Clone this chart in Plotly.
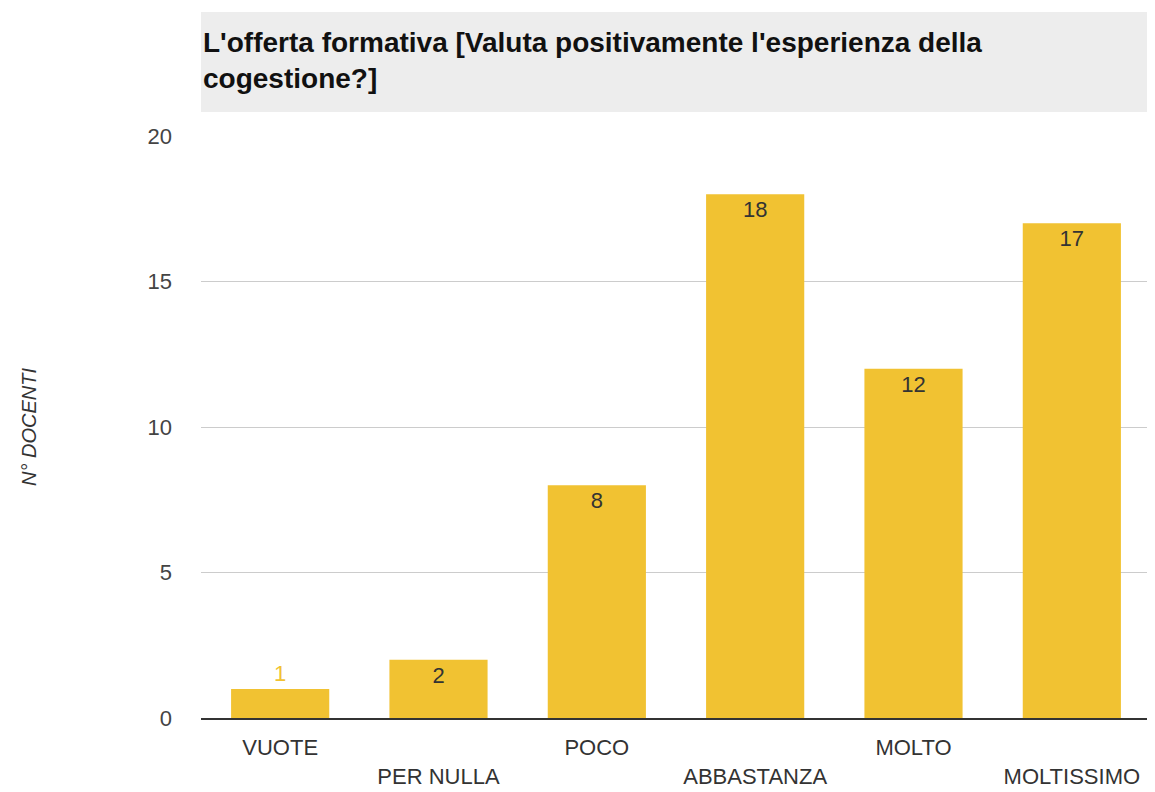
import plotly.graph_objects as go

categories = ["VUOTE", "PER NULLA", "POCO", "ABBASTANZA", "MOLTO", "MOLTISSIMO"]
values = [1, 2, 8, 18, 12, 17]
y_ticks = [0, 5, 10, 15, 20]
title_text = "L'offerta formativa [Valuta positivamente l'esperienza della<br>cogestione?]"
y_title = "N° DOCENTI"

BAR = "#F1C232"
FONT = "Liberation Sans, Arial, sans-serif"

# alternate tick labels onto two rows
tick_labels = [c if i % 2 == 0 else "<br>" + c for i, c in enumerate(categories)]
text_pos = ["outside" if v < 2 else "inside" for v in values]
text_col = [BAR if v < 2 else "#333333" for v in values]

fig = go.Figure(go.Bar(
    x=categories, y=values,
    marker=dict(color=BAR, line=dict(width=0)),
    width=0.62,
    text=[str(v) for v in values],
    textposition=text_pos,
    insidetextanchor="end",
    textfont=dict(family=FONT, size=22, color=text_col),
    cliponaxis=False,
))

fig.update_layout(
    width=1155, height=792,
    margin=dict(l=193, r=12, t=128, b=82, autoexpand=False),
    paper_bgcolor="white", plot_bgcolor="white",
    showlegend=False,
    font=dict(family=FONT),
    uniformtext=dict(mode=False),
    title=dict(
        text=title_text,
        x=0, xref="paper", xanchor="left",
        y=1 - 44 / 792, yref="container", yanchor="top",
        pad=dict(l=2),
        font=dict(family=FONT, size=28, color="#111111", weight="bold"),
    ),
    shapes=[dict(
        type="rect", xref="paper", yref="paper",
        x0=0, x1=1, y0=1 + 24 / 582, y1=1 + 124 / 582,
        fillcolor="#ededed", line=dict(width=0), layer="below",
    )],
)

fig.update_xaxes(
    tickmode="array", tickvals=categories, ticktext=tick_labels,
    tickfont=dict(family=FONT, size=22, color="#333333"),
    showline=True, linecolor="#333333", linewidth=2,
    showgrid=False, ticks="", ticklabelstandoff=9, automargin=False,
)
fig.update_yaxes(
    range=[0, 20], tickvals=y_ticks,
    tickfont=dict(family=FONT, size=22, color="#444444"),
    showgrid=True, gridcolor="#cccccc", gridwidth=1,
    zeroline=False, ticks="", ticklabelstandoff=28, automargin=False,
    title=dict(text="<i>" + y_title + "</i>", standoff=105,
               font=dict(family=FONT, size=20, color="#333333")),
)

fig.write_html("out.html")
